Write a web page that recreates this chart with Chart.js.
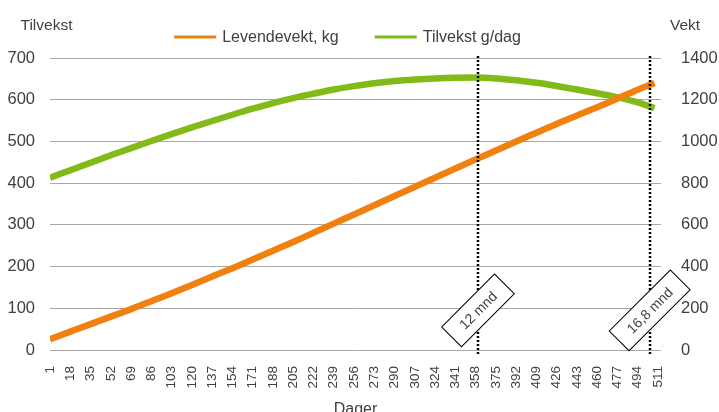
<!DOCTYPE html>
<html>
<head>
<meta charset="utf-8">
<script src="https://cdn.jsdelivr.net/npm/chart.js@4/dist/chart.umd.min.js"></script>
<style>
  html, body { margin: 0; padding: 0; background: #fff; overflow: hidden; }
  #wrap { width: 719px; height: 430px; position: relative; }
</style>
</head>
<body>
<div id="wrap"><canvas id="chart"></canvas></div>
<script>
// Tick labels on the day axis
const tickDays = [1, 18, 35, 52, 69, 86, 103, 120, 137, 154, 171, 188, 205, 222, 239, 256,
                  273, 290, 307, 324, 341, 358, 375, 392, 409, 426, 443, 460, 477, 494, 511];

// Days where the curves are sampled
const days = [1, 18, 35, 52, 69, 86, 103, 120, 137, 154, 171, 188, 205, 222, 239, 256,
              273, 290, 307, 324, 341, 358, 375, 392, 409, 426, 443, 460, 477, 494, 508];

// Live weight, kg (left axis)
const liveWeight = [26, 44, 62, 80, 98, 117, 136, 156, 176, 196, 217, 238, 259, 281, 303, 325,
                    347, 369, 391, 413, 435, 457, 478, 500, 521, 542, 562, 582, 603, 624, 640];

// Daily gain, g/day (right axis)
const dailyGain = [826, 862, 898, 934, 968, 1002, 1035, 1067, 1098, 1128, 1157, 1184, 1208, 1229, 1249, 1265,
                   1279, 1290, 1297, 1302, 1305, 1306, 1302, 1293, 1281, 1266, 1249, 1231, 1211, 1187, 1160];

// Age markers (day, label)
const markerDays = [360, 504];
const markerLabels = ['12 mnd', '16,8 mnd'];

const seriesNames = ['Levendevekt, kg', 'Tilvekst g/dag'];
const seriesColors = ['#f0800f', '#82ba18'];

const FONT = '"Liberation Sans", Arial, Helvetica, sans-serif';
const TEXT = '#404040';
Chart.defaults.font.family = FONT;
Chart.defaults.color = TEXT;

const toPoints = (vals) => vals.map((v, i) => ({ x: days[i], y: v }));
const plain = (v) => String(v);

const decorations = {
  id: 'decorations',
  afterDatasetsDraw(chart) {
    const { ctx, chartArea, scales: { x, y } } = chart;
    ctx.save();
    // dotted age lines
    ctx.strokeStyle = '#000';
    ctx.lineWidth = 2.5;
    ctx.setLineDash([2, 2]);
    markerDays.forEach(d => {
      const px = Math.round(x.getPixelForValue(d));
      ctx.beginPath();
      ctx.moveTo(px, chartArea.top - 2);
      ctx.lineTo(px, chartArea.bottom + 5);
      ctx.stroke();
    });
    ctx.setLineDash([]);
    // tilted label boxes
    ctx.font = '14px ' + FONT;
    markerDays.forEach((d, i) => {
      const cx = x.getPixelForValue(d);
      const cy = y.getPixelForValue(95);
      const w = ctx.measureText(markerLabels[i]).width + 28;
      const h = 28;
      ctx.save();
      ctx.translate(cx, cy);
      ctx.rotate(-Math.PI / 4);
      ctx.fillStyle = '#fff';
      ctx.fillRect(-w / 2, -h / 2, w, h);
      ctx.lineWidth = 1;
      ctx.strokeStyle = '#000';
      ctx.strokeRect(-w / 2, -h / 2, w, h);
      ctx.fillStyle = TEXT;
      ctx.textAlign = 'center';
      ctx.textBaseline = 'middle';
      ctx.fillText(markerLabels[i], 0, 1);
      ctx.restore();
    });
    ctx.restore();
  },
  afterDraw(chart) {
    const { ctx, chartArea } = chart;
    ctx.save();
    // axis captions above the value axes
    ctx.font = '15.5px ' + FONT;
    ctx.fillStyle = TEXT;
    ctx.textBaseline = 'alphabetic';
    ctx.textAlign = 'left';
    ctx.fillText('Tilvekst', 20.5, 29.5);
    ctx.fillText('Vekt', 670, 29.5);
    // legend
    ctx.font = '16px ' + FONT;
    const sample = 42, gapText = 6, gapItem = 36;
    const widths = seriesNames.map(n => ctx.measureText(n).width);
    const total = widths.reduce((a, w) => a + sample + gapText + w, 0) + gapItem * (seriesNames.length - 1);
    let lx = (chartArea.left + chartArea.right) / 2 - 8 - total / 2;
    const ly = 37;
    seriesNames.forEach((n, i) => {
      ctx.strokeStyle = seriesColors[i];
      ctx.lineWidth = 3;
      ctx.beginPath();
      ctx.moveTo(lx, ly);
      ctx.lineTo(lx + sample, ly);
      ctx.stroke();
      ctx.fillStyle = TEXT;
      ctx.textBaseline = 'middle';
      ctx.fillText(n, lx + sample + gapText, ly + 1);
      lx += sample + gapText + widths[i] + gapItem;
    });
    ctx.restore();
  }
};

new Chart(document.getElementById('chart'), {
  type: 'line',
  data: {
    datasets: [
      {
        label: seriesNames[0],
        data: toPoints(liveWeight),
        yAxisID: 'y',
        borderColor: seriesColors[0],
        backgroundColor: seriesColors[0],
        borderWidth: 6.5,
        pointRadius: 0,
        cubicInterpolationMode: 'monotone',
        borderCapStyle: 'butt'
      },
      {
        label: seriesNames[1],
        data: toPoints(dailyGain),
        yAxisID: 'y1',
        borderColor: seriesColors[1],
        backgroundColor: seriesColors[1],
        borderWidth: 6.5,
        pointRadius: 0,
        cubicInterpolationMode: 'monotone',
        borderCapStyle: 'butt'
      }
    ]
  },
  options: {
    responsive: true,
    maintainAspectRatio: false,
    animation: false,
    events: [],
    layout: { padding: { top: 58, left: 0, right: 0, bottom: 0 } },
    plugins: {
      legend: { display: false },
      tooltip: { enabled: false }
    },
    scales: {
      x: {
        type: 'linear',
        min: 1,
        max: 513.5,
        afterBuildTicks: (scale) => { scale.ticks = tickDays.map(v => ({ value: v })); },
        afterFit: (scale) => { scale.height = 80; },
        grid: { display: false },
        border: { display: false },
        ticks: {
          autoSkip: false,
          maxRotation: 90,
          minRotation: 90,
          padding: 8,
          color: TEXT,
          font: { size: 13.5 },
          callback: plain
        },
        title: {
          display: true,
          text: 'Dager',
          color: TEXT,
          font: { size: 16 },
          padding: { top: 0, bottom: 11 }
        }
      },
      y: {
        position: 'left',
        min: 0,
        max: 700,
        afterFit: (scale) => { scale.width = 50; },
        ticks: { stepSize: 100, padding: 15, color: TEXT, font: { size: 16.5 }, callback: plain },
        grid: { color: '#a8a8a8', lineWidth: 1, drawTicks: false },
        border: { display: false }
      },
      y1: {
        position: 'right',
        min: 0,
        max: 1400,
        afterFit: (scale) => { scale.width = 58; },
        ticks: { stepSize: 200, padding: 20, color: TEXT, font: { size: 16.5 }, callback: plain },
        grid: { drawOnChartArea: false, drawTicks: false },
        border: { display: false }
      }
    }
  },
  plugins: [decorations]
});
</script>
</body>
</html>
